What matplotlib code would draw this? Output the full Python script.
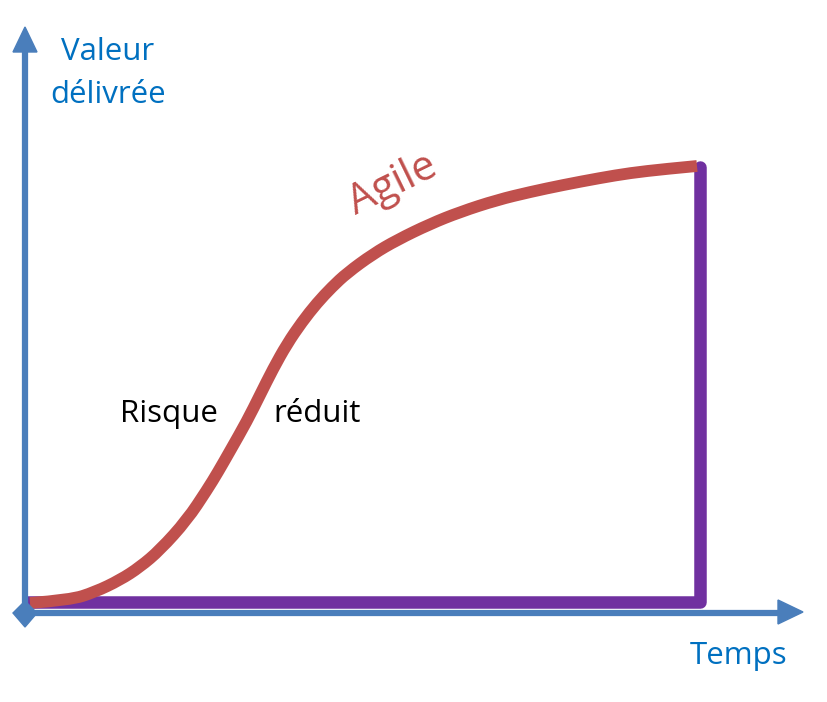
import matplotlib
matplotlib.use("Agg")
import matplotlib.pyplot as plt
from matplotlib.patches import Polygon, PathPatch
from matplotlib.path import Path

# Data (pixel-space coordinates)
curve_x = [30, 70, 95, 120, 140, 160, 187, 207, 218, 230, 247, 260, 273, 287, 302, 317, 332, 347, 373, 397, 430, 460, 497, 530, 563, 600, 630, 665, 697]
curve_y = [603, 600, 592, 580, 567, 550, 520, 490, 472, 451, 421, 395, 369, 344, 322, 303, 287, 273, 254, 240, 224, 212, 200, 192, 185, 178, 173, 169, 166]
purple_x = [28, 700, 700]
purple_y = [602, 602, 167]

BLUE = "#4A7EBB"
PURPLE = "#7030A0"
RED = "#C0504D"
TBLUE = "#0070C0"

plt.rcParams['font.family'] = ['Open Sans', 'DejaVu Sans']
fig = plt.figure(figsize=(8.28, 7.02), dpi=100)
ax = fig.add_axes([0, 0, 1, 1])
ax.set_xlim(0, 828)
ax.set_ylim(702, 0)
ax.axis('off')

# purple line
ax.plot(purple_x, purple_y, color=PURPLE, lw=9, solid_joinstyle='round', solid_capstyle='round', zorder=2)

# red curve: smooth quadratic B-spline path through the read points
pts = list(zip(curve_x, curve_y))
verts = [pts[0]]
codes = [Path.MOVETO]
for i in range(1, len(pts) - 1):
    mid = ((pts[i][0] + pts[i + 1][0]) / 2, (pts[i][1] + pts[i + 1][1]) / 2)
    if i == len(pts) - 2:
        mid = pts[-1]
    verts += [pts[i], mid]
    codes += [Path.CURVE3, Path.CURVE3]
ax.add_patch(PathPatch(Path(verts, codes), facecolor='none', edgecolor=RED, lw=8.5,
                       capstyle='butt', joinstyle='round', zorder=3))

# blue axes
ax.plot([25, 25], [613, 50], color=BLUE, lw=4.5, solid_capstyle='butt', zorder=4)
ax.plot([25, 780], [613, 613], color=BLUE, lw=4.5, solid_capstyle='butt', zorder=4)
ax.add_patch(Polygon([[25, 27], [13, 52], [37, 52]], closed=True, color=BLUE, zorder=4))
ax.add_patch(Polygon([[803, 612], [778, 600], [778, 624]], closed=True, color=BLUE, zorder=4))
ax.add_patch(Polygon([[25, 601], [37, 613], [25, 627], [13, 613]], closed=True, color=BLUE, zorder=4))

ax.text(108, 52, "Valeur", color=TBLUE, fontsize=22.5, ha='center', va='center')
ax.text(108, 95, "délivrée", color=TBLUE, fontsize=22.5, ha='center', va='center')
ax.text(739, 656, "Temps", color=TBLUE, fontsize=22.5, ha='center', va='center')
ax.text(393, 185, "Agile", color=RED, fontsize=30, ha='center', va='center', rotation=26)
ax.text(169, 414, "Risque", color='black', fontsize=22.5, ha='center', va='center')
ax.text(317, 414, "réduit", color='black', fontsize=22.5, ha='center', va='center')

fig.savefig("out.png", dpi=100)
